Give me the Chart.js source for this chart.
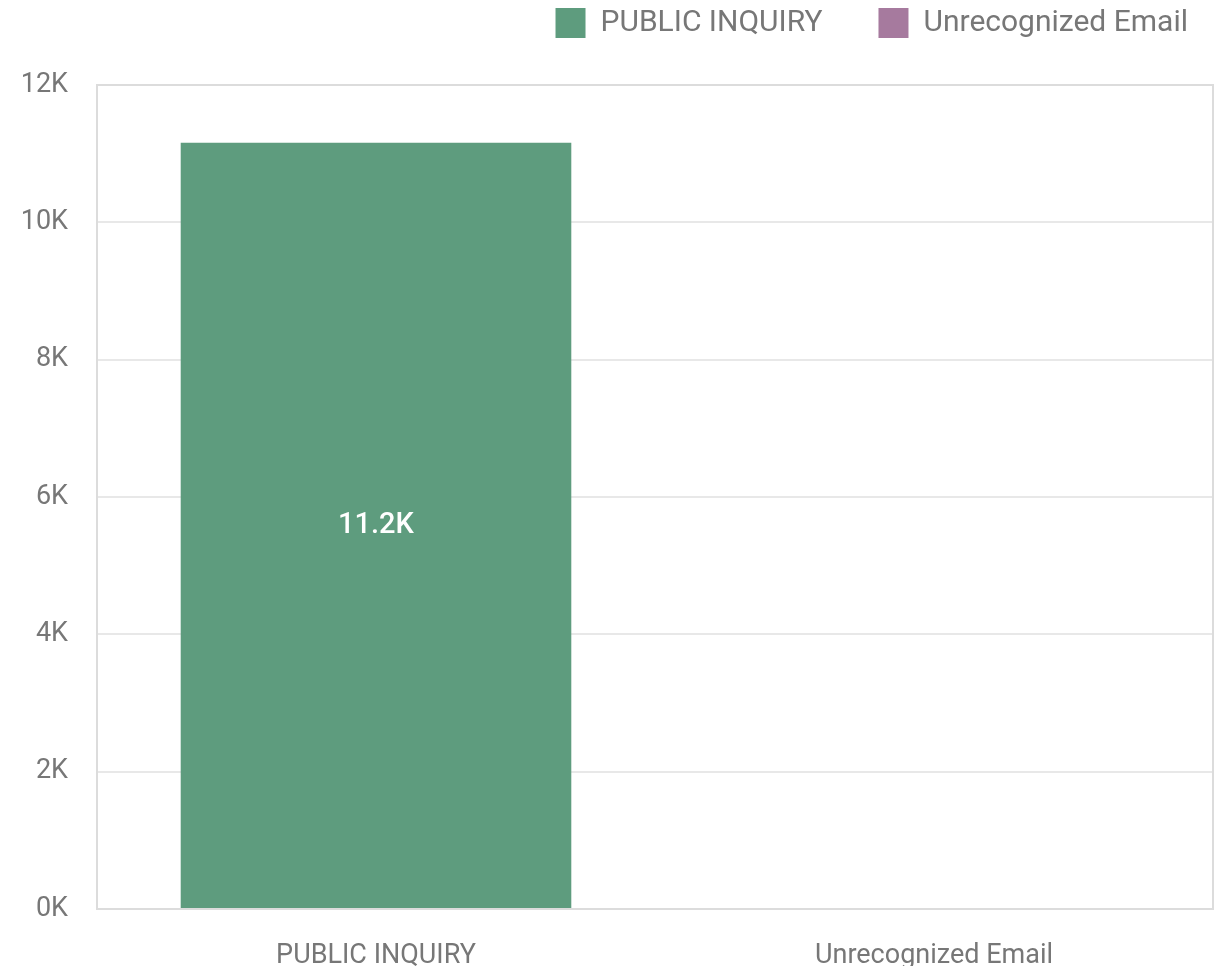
<!DOCTYPE html>
<html>
<head>
<meta charset="utf-8">
<script src="https://cdn.jsdelivr.net/npm/chart.js@4/dist/chart.umd.min.js"></script>
<style>
  html, body { margin: 0; padding: 0; background: #fff; }
  #wrap { width: 1230px; height: 966px; }
</style>
</head>
<body>
<div id="wrap"><canvas id="barChart"></canvas></div>
<script>
const categories = ['PUBLIC INQUIRY', 'Unrecognized Email'];
const publicInquiry = [11160, null];
const unrecognizedEmail = [null, 0];
const yTicks = [0, 2000, 4000, 6000, 8000, 10000, 12000];

const fmtK = v => (v / 1000).toFixed(v % 1000 === 0 ? 0 : 1) + 'K';

const LEGEND_PAD = 56;

// legend sits in the top strip, right aligned
const legendPlace = {
    id: 'legendPlace',
    afterInit(chart) {
        const lg = chart.legend;
        const fit = lg.fit;
        lg.fit = function () {
            fit.call(this);
            this.height = 85;
        };
    },
    afterLayout(chart) {
        const lg = chart.legend;
        const w = lg.right - lg.left;
        lg.right = 1188 + LEGEND_PAD;
        lg.left = lg.right - w;
        lg.top = 26 - LEGEND_PAD - 18;
    }
};

// frame around the plot area
const framePlugin = {
    id: 'frame',
    beforeDatasetsDraw(chart) {
        const { ctx, chartArea: a } = chart;
        ctx.save();
        ctx.strokeStyle = '#dcdcdc';
        ctx.lineWidth = 2;
        ctx.strokeRect(a.left, a.top, a.right - a.left, a.bottom - a.top);
        ctx.restore();
    }
};

// value labels inside bars
const valueLabels = {
    id: 'valueLabels',
    afterDatasetsDraw(chart) {
        const { ctx } = chart;
        ctx.save();
        ctx.fillStyle = '#ffffff';
        ctx.font = '500 29px Roboto';
        ctx.textAlign = 'center';
        ctx.textBaseline = 'middle';
        chart.data.datasets.forEach((ds, i) => {
            chart.getDatasetMeta(i).data.forEach((bar, j) => {
                const v = ds.data[j];
                if (!v) return;
                ctx.fillText(fmtK(v), bar.x, (bar.y + bar.base) / 2);
            });
        });
        ctx.restore();
    }
};

document.addEventListener('DOMContentLoaded', () => {
    const ctx = document.getElementById('barChart').getContext('2d');
    new Chart(ctx, {
        type: 'bar',
        data: {
            labels: categories,
            datasets: [
                { label: 'PUBLIC INQUIRY', data: publicInquiry, backgroundColor: '#5e9c7e' },
                { label: 'Unrecognized Email', data: unrecognizedEmail, backgroundColor: '#a67a9e' }
            ]
        },
        options: {
            responsive: true,
            maintainAspectRatio: false,
            animation: false,
            layout: { padding: { left: 0, right: 17, top: 0, bottom: 0 } },
            datasets: { bar: { barPercentage: 0.875, categoryPercentage: 0.8 } },
            plugins: {
                legend: {
                    position: 'top',
                    align: 'end',
                    labels: {
                        boxWidth: 30,
                        boxHeight: 30,
                        padding: LEGEND_PAD,
                        color: '#777',
                        font: { family: 'Roboto', size: 30 }
                    }
                },
                tooltip: { enabled: false }
            },
            scales: {
                x: {
                    stacked: true,
                    grid: { display: false },
                    border: { display: false },
                    afterFit: axis => { axis.height = 57; },
                    ticks: { color: '#777', padding: 23, font: { family: 'Roboto', size: 27 } }
                },
                y: {
                    stacked: true,
                    min: 0,
                    max: 12000,
                    afterBuildTicks: axis => { axis.ticks = yTicks.map(v => ({ value: v })); },
                    afterFit: axis => { axis.width = 97; },
                    grid: { color: '#e8e8e8', lineWidth: 2, drawTicks: false },
                    border: { display: false },
                    ticks: {
                        color: '#777',
                        padding: 29,
                        font: { family: 'Roboto', size: 27 },
                        callback: v => fmtK(v)
                    }
                }
            }
        },
        plugins: [legendPlace, framePlugin, valueLabels]
    });
});
</script>
</body>
</html>
